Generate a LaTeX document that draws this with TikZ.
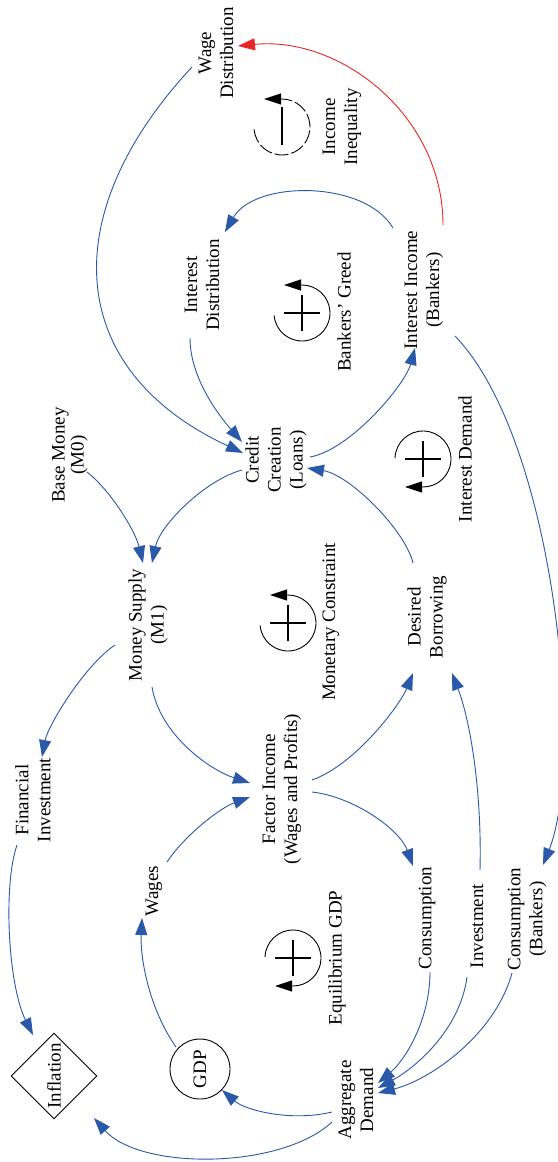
\documentclass[tikz,border=0pt]{standalone}
\usepackage{fontspec}
\setmainfont{Liberation Serif}
\usetikzlibrary{arrows.meta,shapes.geometric}
\definecolor{lnk}{RGB}{42,89,170}
\definecolor{neg}{RGB}{232,38,38}
\begin{document}
\begin{tikzpicture}[x=1pt,y=-1pt,
  lbl/.style={rotate=90, align=center, inner sep=0pt, font=\fontsize{19}{22}\selectfont},
  lnkarrow/.style={draw=lnk, line width=0.9pt, -{Triangle[length=17pt,width=12pt]}},
  negarrow/.style={draw=neg, line width=0.9pt, -{Triangle[length=17pt,width=12pt]}},
  loopline/.style={draw=black, line width=0.9pt, -{Triangle[length=17pt,width=11pt]}},
  sign/.style={draw=black, line width=2pt}]
\fill[white] (0,0) rectangle (557,1162);
\useasboundingbox (0,0) rectangle (557,1162);

% nodes
\node[lbl] (wd) at (216,53) {Wage\\Distribution};
\node[lbl] (ii) at (342,127) {Income\\Inequality};
\node[lbl] (idist) at (202,285) {Interest\\Distribution};
\node[lbl] (bg) at (344,312) {Bankers' Greed};
\node[lbl] (iinc) at (424,290) {Interest Income\\(Bankers)};
\node[lbl] (cc) at (276,460) {Credit\\Creation\\(Loans)};
\node[lbl] (idem) at (465,459) {Interest Demand};
\node[lbl, font=\fontsize{19}{19}\selectfont] (bm) at (70,455) {Base Money\\(M0)};
\node[lbl] (ms) at (148,625) {Money Supply\\(M1)};
\node[lbl] (mc) at (331,622) {Monetary Constraint};
\node[lbl] (db) at (427,617) {Desired\\Borrowing};
\node[lbl] (fi) at (33,800) {Financial\\Investment};
\node[lbl] (fac) at (282,789) {Factor Income\\(Wages and Profits)};
\node[lbl] (wages) at (154,891) {Wages};
\node[lbl] (egdp) at (337,958) {Equilibrium GDP};
\node[lbl] (cons) at (427,918) {Consumption};
\node[lbl] (inv) at (477,926) {Investment};
\node[lbl] (consb) at (527,919) {Consumption\\(Bankers)};
\node[lbl, draw, line width=0.9pt, circle, minimum size=60pt] (gdp) at (200,1069) {GDP};
\node[lbl, draw, line width=0.9pt, diamond, aspect=1, minimum size=86pt] (infl) at (54,1076) {Inflation};
\node[lbl] (ad) at (356,1100) {Aggregate\\Demand};

% loop symbols
\coordinate (lii) at (282,127);
\coordinate (lbg) at (302,313);
\coordinate (lmc) at (288,623);
\coordinate (lid) at (423,459);
\coordinate (leq) at (293,958);
\draw[loopline, dash pattern=on 14pt off 3pt] (lii) ++(185:28pt) arc[start angle=185,end angle=450,radius=28pt] -- ++(-18,0);
\draw[sign] (lii) ++(0,-20) -- ++(0,38);
\draw[loopline] (lbg) ++(185:28pt) arc[start angle=185,end angle=450,radius=28pt] -- ++(-18,0);
\draw[sign] (lbg) ++(-18,0) -- ++(36,0) (lbg) ++(0,-18) -- ++(0,36);
\draw[loopline] (lmc) ++(185:28pt) arc[start angle=185,end angle=450,radius=28pt] -- ++(-18,0);
\draw[sign] (lmc) ++(-18,0) -- ++(36,0) (lmc) ++(0,-18) -- ++(0,36);
\draw[loopline] (lid) ++(178:28pt) arc[start angle=178,end angle=-90,radius=28pt] -- ++(-18,0);
\draw[sign] (lid) ++(-18,0) -- ++(36,0) (lid) ++(0,-18) -- ++(0,36);
\draw[loopline] (leq) ++(178:28pt) arc[start angle=178,end angle=-90,radius=28pt] -- ++(-18,0);
\draw[sign] (leq) ++(-18,0) -- ++(36,0) (leq) ++(0,-18) -- ++(0,36);

% connectors
\draw[negarrow] ([shift={(19,-65)}]iinc.center) .. controls (443,115) and (340,36) .. ([shift={(22,-7)}]wd.center);
\draw[lnkarrow] ([shift={(-31,-62)}]iinc.center) .. controls (365,180) and (255,180) .. ([shift={(23,-53)}]idist.center);
\draw[lnkarrow] ([shift={(-24,14)}]wd.center) .. controls (56,213) and (63,369) .. ([shift={(-33,-7)}]cc.center);
\draw[lnkarrow] ([shift={(-12,53)}]idist.center) .. controls (190,380) and (222,419) .. ([shift={(-34,-18)}]cc.center);
\draw[lnkarrow] ([shift={(34,-3)}]cc.center) .. controls (350,450) and (405,385) .. ([shift={(-9,58)}]iinc.center);
\draw[lnkarrow] ([shift={(31,46)}]iinc.center) .. controls (555,440) and (585,760) .. ([shift={(16,-54)}]consb.center);
\draw[lnkarrow] ([shift={(-14,-54)}]db.center) .. controls (405,530) and (350,475) .. ([shift={(31,8)}]cc.center);
\draw[lnkarrow] ([shift={(-34,10)}]cc.center) .. controls (205,480) and (160,525) .. ([shift={(4,-62)}]ms.center);
\draw[lnkarrow] ([shift={(17,17)}]bm.center) .. controls (110,490) and (135,530) .. ([shift={(-5,-62)}]ms.center);
\draw[lnkarrow] ([shift={(-33,20)}]ms.center) .. controls (85,665) and (48,725) .. ([shift={(9,-43)}]fi.center);
\draw[lnkarrow] ([shift={(4,62)}]ms.center) .. controls (160,735) and (210,770) .. ([shift={(-32,-6)}]fac.center);
\draw[lnkarrow] ([shift={(30,-9)}]fac.center) .. controls (355,765) and (400,705) .. ([shift={(-14,56)}]db.center);
\draw[lnkarrow] ([shift={(3,-56)}]inv.center) .. controls (482,790) and (470,720) .. ([shift={(25,56)}]db.center);
\draw[lnkarrow] ([shift={(30,3)}]fac.center) .. controls (355,797) and (400,830) .. ([shift={(-14,-52)}]cons.center);
\draw[lnkarrow] ([shift={(13,-29)}]wages.center) .. controls (185,835) and (220,808) .. ([shift={(-32,8)}]fac.center);
\draw[lnkarrow] ([shift={(-24,-22)}]gdp.center) .. controls (150,1010) and (140,960) .. ([shift={(-12,27)}]wages.center);
\draw[lnkarrow] ([shift={(-24,12)}]ad.center) .. controls (290,1122) and (245,1110) .. ([shift={(22,21)}]gdp.center);
\draw[lnkarrow] ([shift={(-24,22)}]ad.center) .. controls (280,1170) and (140,1170) .. ([shift={(40,42)}]infl.center);
\draw[lnkarrow] ([shift={(-16,45)}]fi.center) .. controls (3,885) and (8,985) .. ([shift={(-21,-41)}]infl.center);
\draw[lnkarrow] ([shift={(3,54)}]cons.center) .. controls (430,1020) and (405,1060) .. ([shift={(22,-17)}]ad.center);
\draw[lnkarrow] ([shift={(-10,51)}]inv.center) .. controls (460,1030) and (415,1068) .. ([shift={(22,-12)}]ad.center);
\draw[lnkarrow] ([shift={(-15,54)}]consb.center) .. controls (495,1035) and (430,1080) .. ([shift={(22,-7)}]ad.center);
\end{tikzpicture}
\end{document}
